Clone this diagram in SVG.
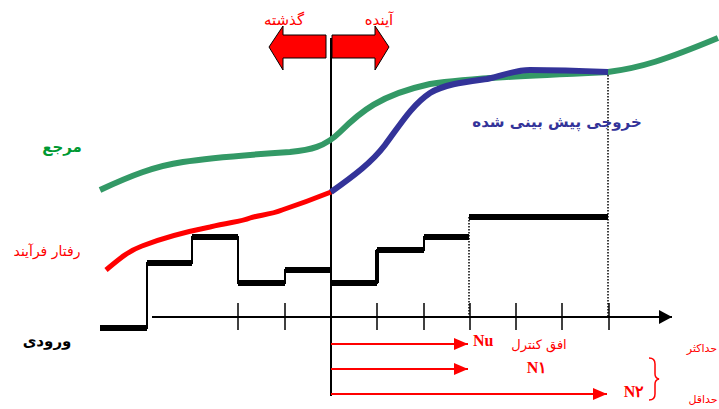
<svg xmlns="http://www.w3.org/2000/svg" width="719" height="409" viewBox="0 0 719 409">
<style>
.fa{font-family:"DejaVu Sans","Noto Sans",sans-serif;text-anchor:middle}
.red{fill:#FF0000}
.n{font-family:"Liberation Serif","DejaVu Serif",serif;font-weight:bold;fill:#FF0000}
.step{fill:none;stroke:#000;stroke-width:6;stroke-linecap:butt}
.thin{fill:none;stroke:#000;stroke-width:2}
.dot{fill:none;stroke:#000;stroke-width:1.5;stroke-dasharray:1.5 1.5}
.rl{stroke:#FF0000;stroke-width:2;fill:none}
</style>
<defs>
<marker id="rh" markerWidth="14" markerHeight="12" refX="14" refY="6" orient="auto" markerUnits="userSpaceOnUse">
<path d="M0,0 L14,6 L0,12 Z" fill="#FF0000"/>
</marker>
<marker id="bh" markerWidth="14" markerHeight="14" refX="13" refY="7" orient="auto" markerUnits="userSpaceOnUse">
<path d="M0,0 L13,7 L0,14 Z" fill="#000"/>
</marker>
</defs>
<rect width="719" height="409" fill="#fff"/>

<g id="connectors">
<line x1="152" y1="317" x2="672" y2="317" stroke="#000" stroke-width="2" marker-end="url(#bh)"/>
<g stroke="#000" stroke-width="1.5">
<line x1="238" y1="303" x2="238" y2="330"/>
<line x1="285" y1="303" x2="285" y2="330"/>
<line x1="377" y1="303" x2="377" y2="330"/>
<line x1="424" y1="303" x2="424" y2="330"/>
<line x1="470" y1="303" x2="470" y2="330"/>
<line x1="516" y1="303" x2="516" y2="330"/>
<line x1="562" y1="303" x2="562" y2="330"/>
<line x1="609" y1="303" x2="609" y2="330"/>
</g>
<line x1="331" y1="38" x2="331" y2="396" stroke="#000" stroke-width="2"/>
<line class="dot" x1="469" y1="217" x2="469" y2="317"/>
<line class="dot" x1="608" y1="72" x2="608" y2="317"/>
<line class="rl" x1="331" y1="344" x2="468" y2="344" marker-end="url(#rh)"/>
<line class="rl" x1="331" y1="369" x2="468" y2="369" marker-end="url(#rh)"/>
<line class="rl" x1="331" y1="394" x2="607" y2="394" marker-end="url(#rh)"/>
</g>

<g id="reference-curve">
<path d="M100,190 C130,176 155,166 183,162 C215,157 245,155 290,152 C310,150 325,147 340,132 C360,112 380,95 430,84 C470,78 540,75 608,72 C640,68 665,60 718,38" fill="none" stroke="#339966" stroke-width="6"/>
</g>

<g id="process-curve">
<path d="M106,270 C118,260 128,251 142,246 C165,237 185,232 210,227 C230,222 240,222 250,218 C258,215 270,215 282,210 C300,204 316,198 331,192" fill="none" stroke="#FF0000" stroke-width="5"/>
</g>

<g id="predicted-output">
<path d="M331,192 C355,175 372,162 385,145 C400,125 412,105 430,93 C445,84 465,82 487,79 C505,75 515,70 530,70 C560,70 585,71 608,72" fill="none" stroke="#333399" stroke-width="6"/>
</g>

<g id="input-signal">
<polyline class="thin" points="147,329 147,263 192,263 192,237 238,237 238,283 285,283 285,270 331,270 331,283 377,283 377,250 424,250 424,237 469,237"/>
<g class="step">
<line x1="100" y1="328" x2="147" y2="328"/>
<line x1="147" y1="263" x2="192" y2="263"/>
<line x1="192" y1="237" x2="238" y2="237"/>
<line x1="238" y1="283" x2="285" y2="283"/>
<line x1="285" y1="270" x2="331" y2="270"/>
<line x1="331" y1="283" x2="377" y2="283"/>
<line x1="377" y1="250" x2="424" y2="250"/>
<line x1="424" y1="237" x2="469" y2="237"/>
<line x1="469" y1="217" x2="608" y2="217"/>
</g>
<line x1="377" y1="250" x2="377" y2="283" stroke="#000" stroke-width="4"/>
</g>

<g id="past-future-arrows">
<path d="M326,35 L283,35 L283,26 L269,47 L283,70 L283,58 L326,58 Z" fill="#FF0000" stroke="#000" stroke-width="1"/>
<path d="M332,35 L375,35 L375,26 L389,47 L375,70 L375,58 L332,58 Z" fill="#FF0000" stroke="#000" stroke-width="1"/>
<text class="fa red" x="284" y="25" font-size="15">گذشته</text>
<text class="fa red" x="379" y="25" font-size="15">آینده</text>
</g>

<g id="labels">
<text class="fa" x="62" y="152" font-size="15" font-weight="bold" fill="#009933">مرجع</text>
<text class="fa red" x="47" y="256" font-size="14">رفتار فرآیند</text>
<text class="fa" x="47" y="346" font-size="15" font-weight="bold" fill="#000">ورودی</text>
<text class="fa" x="557" y="127" font-size="15" font-weight="bold" fill="#333399">خروجی پیش بینی شده</text>
</g>

<g id="horizon-labels">
<text class="n" x="473" y="346" font-size="16">Nu</text>
<text class="fa red" x="539" y="349" font-size="13">افق کنترل</text>
<text class="n" x="537" y="373" font-size="16" text-anchor="middle">N۱</text>
<text class="n" x="634" y="397" font-size="16" text-anchor="middle">N۲</text>
<path d="M649,358 Q655,358 655,364 L655,374 Q655,378 659,379 Q655,380 655,384 L655,394 Q655,400 649,400" fill="none" stroke="#FF0000" stroke-width="1.5"/>
<text class="fa red" x="702" y="352" font-size="11">حداکثر</text>
<text class="fa red" x="703" y="403" font-size="11">حداقل</text>
</g>
</svg>
